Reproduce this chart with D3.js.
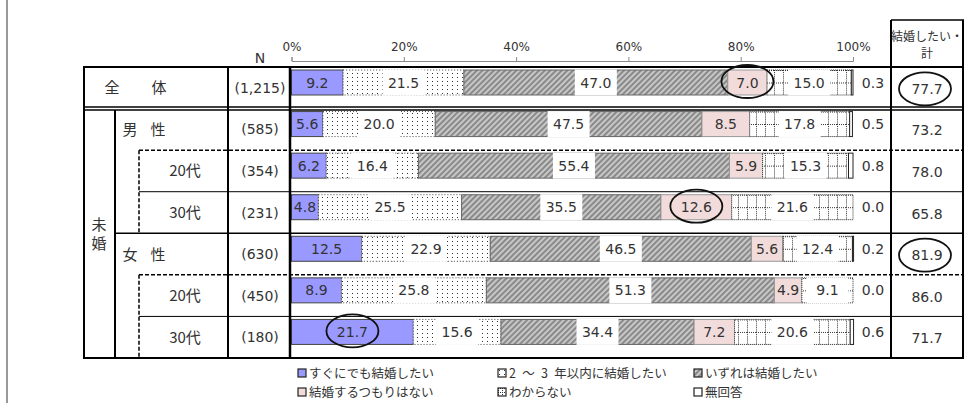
<!DOCTYPE html>
<html>
<head>
<meta charset="utf-8">
<script src="https://cdn.jsdelivr.net/npm/d3@7"></script>
<style>
    html, body { margin: 0; padding: 0; background: #fff; }
    svg { display: block; }
    text { font-family: 'DejaVu Sans', 'Noto Sans CJK JP', sans-serif; fill: #333; }
    .jp { font-family: 'Noto Sans CJK JP', sans-serif; }
</style>
</head>
<body>
<div id="chart"></div>
<script>
// ---- data ----
var rowIds = ['all', 'male', 'male20', 'male30', 'female', 'female20', 'female30'];
var nValues = [1215, 585, 354, 231, 630, 450, 180];
var categories = ['すぐにでも結婚したい', '2\u2002～\u20023\u2002年以内に結婚したい', 'いずれは結婚したい', '結婚するつもりはない', 'わからない', '無回答'];
var keys = ['immediate', 'within23', 'someday', 'noIntent', 'unknown', 'noAnswer'];
var immediate = [9.2, 5.6, 6.2, 4.8, 12.5, 8.9, 21.7];
var within23 = [21.5, 20.0, 16.4, 25.5, 22.9, 25.8, 15.6];
var someday = [47.0, 47.5, 55.4, 35.5, 46.5, 51.3, 34.4];
var noIntent = [7.0, 8.5, 5.9, 12.6, 5.6, 4.9, 7.2];
var unknown = [15.0, 17.8, 15.3, 21.6, 12.4, 9.1, 20.6];
var noAnswer = [0.3, 0.5, 0.8, 0.0, 0.2, 0.0, 0.6];
var wantTotal = [77.7, 73.2, 78.0, 65.8, 81.9, 86.0, 71.7];
var tickValues = [0, 20, 40, 60, 80, 100];
// circled values: row index + key (or 'total' for the right column)
var circled = [
    { row: 0, key: 'noIntent' },
    { row: 0, key: 'total' },
    { row: 3, key: 'noIntent' },
    { row: 4, key: 'total' },
    { row: 6, key: 'immediate' }
];

var series = [immediate, within23, someday, noIntent, unknown, noAnswer];
var table = rowIds.map(function (id, i) {
    var o = { id: id };
    keys.forEach(function (k, j) { o[k] = series[j][i]; });
    return o;
});

// ---- layout ----
var W = 966, H = 403;
var tableLeft = 84, tableTop = 67, tableBottom = 358, tableRight = 963;
var colN = 228, colPlot = 290, colTotal = 891, colMikon = 115, colSub = 139;
var barOffset = 3, barH = 25;

var svg = d3.select('#chart').append('svg')
    .attr('width', W)
    .attr('height', H);

var x = d3.scaleLinear().domain([0, 100]).range([291.5, 853]);
var y = d3.scaleBand().domain(rowIds).range([tableTop, tableBottom]).paddingInner(0);

var defs = svg.append('defs');

var dots = defs.append('pattern').attr('id', 'p-dots')
    .attr('patternUnits', 'userSpaceOnUse').attr('width', 5).attr('height', 4);
dots.append('rect').attr('width', 5).attr('height', 4).attr('fill', '#fff');
dots.append('rect').attr('x', 2).attr('y', 1).attr('width', 1).attr('height', 1).attr('fill', '#333');

var hatch = defs.append('pattern').attr('id', 'p-hatch')
    .attr('patternUnits', 'userSpaceOnUse').attr('width', 4).attr('height', 4)
    .attr('patternTransform', 'rotate(45)');
hatch.append('rect').attr('width', 4).attr('height', 4).attr('fill', '#8a8a8a');
hatch.append('line').attr('x1', 1).attr('y1', 0).attr('x2', 1).attr('y2', 4)
    .attr('stroke', '#e8e8e8').attr('stroke-width', 1.3);

// grid pattern per row so the middle line sits in the bar
function gridPattern(id, top, h, w) {
    var p = defs.append('pattern').attr('id', id)
        .attr('patternUnits', 'userSpaceOnUse')
        .attr('x', 0).attr('y', top).attr('width', w).attr('height', h / 2);
    p.append('rect').attr('width', w).attr('height', h / 2).attr('fill', '#fff');
    p.append('path').attr('d', 'M0.5,0V' + (h / 2) + 'M0,0.5H' + w)
        .attr('stroke', '#333').attr('stroke-width', 1).attr('stroke-dasharray', '1,1')
        .attr('fill', 'none');
}
rowIds.forEach(function (id) {
    gridPattern('p-grid-' + id, y(id) + barOffset, barH, 9);
});
gridPattern('p-grid-legend', 0, 8, 4);

var styles = {
    immediate: { fill: function () { return '#9999ff'; }, stroke: '#444', dash: null },
    within23: { fill: function () { return 'url(#p-dots)'; }, stroke: '#444', dash: '1,2' },
    someday: { fill: function () { return 'url(#p-hatch)'; }, stroke: '#666', dash: null },
    noIntent: { fill: function () { return '#f2dcdb'; }, stroke: '#999', dash: null },
    unknown: { fill: function (id) { return 'url(#p-grid-' + id + ')'; }, stroke: '#333', dash: '1,1' },
    noAnswer: { fill: function () { return '#fff'; }, stroke: '#222', dash: null }
};
var boxed = ['within23', 'someday', 'unknown'];

// title, mostly cut off at the very top
svg.append('text').attr('class', 'jp')
    .attr('x', 17).attr('y', -4)
    .attr('font-size', 16).attr('fill', '#555')
    .text('図表　今後の結婚の意向　―　結婚したい・計（未婚者）');

// left border of the page
svg.append('line').attr('x1', 7).attr('x2', 7).attr('y1', 0).attr('y2', H)
    .attr('stroke', '#999').attr('stroke-width', 2);

// ---- axis ----
var axis = svg.append('g')
    .attr('transform', 'translate(0,61)')
    .call(d3.axisTop(x).tickValues(tickValues).tickSize(4).tickPadding(6)
        .tickFormat(function (d) { return d + '%'; }));
axis.select('.domain').attr('stroke', '#888');
axis.selectAll('.tick line').attr('stroke', '#888');
axis.selectAll('.tick text').attr('font-size', 12).attr('fill', '#333')
    .attr('font-family', "'DejaVu Sans', sans-serif");

svg.append('text').attr('x', 260).attr('y', 63).attr('text-anchor', 'middle')
    .attr('font-size', 14).text('N');

// header of the right column
svg.append('text').attr('class', 'jp').attr('x', 927).attr('y', 41)
    .attr('text-anchor', 'middle').attr('font-size', 12).text('結婚したい・');
svg.append('text').attr('class', 'jp').attr('x', 927).attr('y', 58)
    .attr('text-anchor', 'middle').attr('font-size', 12).text('計');

// ---- bars ----
var stacked = d3.stack().keys(keys)(table);

var segG = svg.append('g');
stacked.forEach(function (layer) {
    var st = styles[layer.key];
    segG.selectAll('.seg-' + layer.key)
        .data(layer)
        .enter()
        .append('rect')
        .attr('class', 'seg-' + layer.key)
        .attr('x', function (d) { return x(d[0]); })
        .attr('y', function (d) { return y(d.data.id) + barOffset; })
        .attr('width', function (d) { return Math.max(0, x(d[1]) - x(d[0])); })
        .attr('height', barH)
        .attr('fill', function (d) { return st.fill(d.data.id); })
        .attr('stroke', st.stroke)
        .attr('stroke-width', 1)
        .attr('stroke-dasharray', st.dash);
});

var labelG = svg.append('g');
stacked.forEach(function (layer) {
    var isBoxed = boxed.indexOf(layer.key) >= 0;
    var cx = function (d) {
        if (layer.key === 'noAnswer') { return x(100) + 20; }
        return (x(d[0]) + x(d[1])) / 2;
    };
    if (isBoxed) {
        labelG.selectAll('.box-' + layer.key)
            .data(layer)
            .enter()
            .append('rect')
            .attr('x', function (d) { return cx(d) - 21; })
            .attr('y', function (d) { return y(d.data.id) + barOffset - 0.5; })
            .attr('width', 42)
            .attr('height', barH + 1)
            .attr('fill', '#fff');
    }
    labelG.selectAll('.lab-' + layer.key)
        .data(layer)
        .enter()
        .append('text')
        .attr('x', cx)
        .attr('y', function (d) { return y(d.data.id) + barOffset + barH / 2 + 5; })
        .attr('text-anchor', 'middle')
        .attr('font-size', 14)
        .text(function (d) { return d3.format('.1f')(d[1] - d[0]); });
});

// N and total columns
svg.selectAll('.nval')
    .data(rowIds)
    .enter()
    .append('text')
    .attr('x', 260)
    .attr('y', function (d) { return y(d) + y.bandwidth() / 2 + 5; })
    .attr('text-anchor', 'middle')
    .attr('font-size', 14)
    .text(function (d, i) { return '(' + d3.format(',')(nValues[i]) + ')'; });

svg.selectAll('.tval')
    .data(rowIds)
    .enter()
    .append('text')
    .attr('x', 927)
    .attr('y', function (d) { return y(d) + y.bandwidth() / 2 + 6; })
    .attr('text-anchor', 'middle')
    .attr('font-size', 14)
    .text(function (d, i) { return d3.format('.1f')(wantTotal[i]); });

// ---- row labels ----
function rowText(txt, px, id, size) {
    svg.append('text').attr('class', 'jp')
        .attr('x', px).attr('y', y(id) + y.bandwidth() / 2 + 5.5)
        .attr('text-anchor', 'middle').attr('font-size', size || 15)
        .text(txt);
}
rowText('全', 112, 'all');
rowText('体', 159, 'all');
rowText('男', 130, 'male');
rowText('性', 158, 'male');
rowText('女', 130, 'female');
rowText('性', 158, 'female');
['male20', 'female20'].forEach(function (id) { rowText('20代', 185, id); });
['male30', 'female30'].forEach(function (id) { rowText('30代', 185, id); });
svg.append('text').attr('class', 'jp').attr('x', 99).attr('y', 230)
    .attr('text-anchor', 'middle').attr('font-size', 15).text('未');
svg.append('text').attr('class', 'jp').attr('x', 99).attr('y', 249)
    .attr('text-anchor', 'middle').attr('font-size', 15).text('婚');

// ---- table lines ----
var lines = svg.append('g').attr('stroke', '#000').attr('fill', 'none');
function hline(yy, x1, x2, w, dash) {
    lines.append('line').attr('x1', x1).attr('x2', x2).attr('y1', yy).attr('y2', yy)
        .attr('stroke-width', w).attr('stroke-dasharray', dash || null);
}
function vline(xx, y1, y2, w, dash) {
    lines.append('line').attr('x1', xx).attr('x2', xx).attr('y1', y1).attr('y2', y2)
        .attr('stroke-width', w).attr('stroke-dasharray', dash || null);
}
var b1 = y('male');
hline(tableTop, tableLeft - 1, tableRight + 1, 2);
hline(b1 - 1.5, tableLeft, tableRight, 1.5);
hline(b1 + 1.5, tableLeft, tableRight, 1.5);
hline(y('male20'), colSub, tableRight, 1.5, '4,2');
hline(y('male30'), colSub, tableRight, 1);
hline(y('female'), colMikon, tableRight, 1.5);
hline(y('female20'), colSub, tableRight, 1.5, '4,2');
hline(y('female30'), colSub, tableRight, 1);
hline(tableBottom, tableLeft - 1, tableRight + 1, 2);
hline(20, colTotal, tableRight + 1, 1.5);

vline(tableLeft, tableTop, tableBottom, 2);
vline(colMikon, b1 + 1.5, tableBottom, 2);
vline(colSub, y('male20'), y('female'), 1.5, '4,2');
vline(colSub, y('female20'), tableBottom, 1.5, '4,2');
vline(colN, tableTop, tableBottom, 2);
vline(colPlot, tableTop, tableBottom, 2.5);
vline(colTotal, 20, tableBottom, 2);
vline(tableRight, 20, tableBottom, 2);

// ---- circles ----
svg.selectAll('.circ')
    .data(circled)
    .enter()
    .append('ellipse')
    .attr('cx', function (d) {
        if (d.key === 'total') { return 925; }
        var layer = stacked[keys.indexOf(d.key)][d.row];
        return (x(layer[0]) + x(layer[1])) / 2;
    })
    .attr('cy', function (d) {
        var id = rowIds[d.row];
        if (d.key === 'total') { return y(id) + y.bandwidth() / 2 + 1; }
        return y(id) + barOffset + barH / 2 - 1;
    })
    .attr('rx', 26)
    .attr('ry', 16.5)
    .attr('fill', 'none')
    .attr('stroke', '#111')
    .attr('stroke-width', 1.8);

// ---- legend ----
var legendPos = [[302, 373], [502, 373], [698, 373], [302, 392], [502, 392], [698, 392]];
var legendFill = ['#9999ff', 'url(#p-dots)', 'url(#p-hatch)', '#f2dcdb', 'url(#p-grid-legend)', '#fff'];
var legend = svg.selectAll('.legend')
    .data(categories)
    .enter()
    .append('g')
    .attr('transform', function (d, i) { return 'translate(' + legendPos[i][0] + ',' + legendPos[i][1] + ')'; });
legend.append('rect')
    .attr('x', -4).attr('y', -4).attr('width', 8).attr('height', 8)
    .attr('fill', function (d, i) { return legendFill[i]; })
    .attr('stroke', '#222').attr('stroke-width', 1.2);
legend.append('text').attr('class', 'jp')
    .attr('x', 7).attr('y', 4.5)
    .attr('font-size', 12.5)
    .text(function (d) { return d; });
</script>
</body>
</html>
